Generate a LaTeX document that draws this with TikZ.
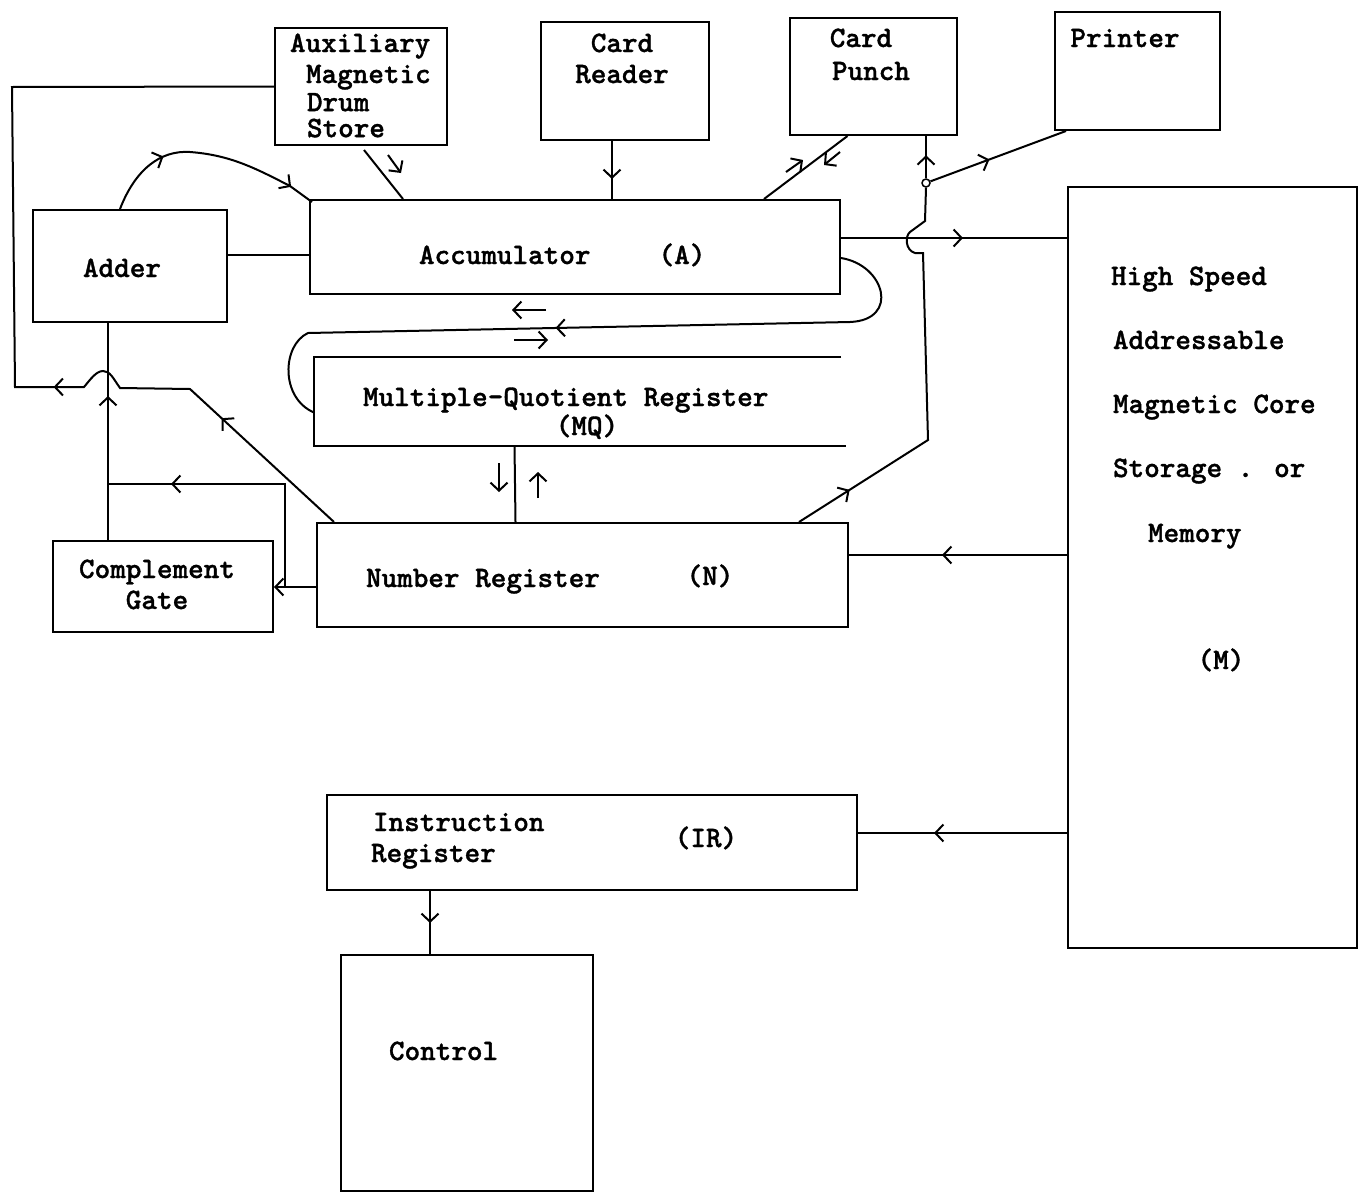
\documentclass[tikz,border=0pt]{standalone}
\usepackage{fontspec}
\newfontfamily\tw{lmmonolt10-bold.otf}[FakeBold=1.2]
\usetikzlibrary{arrows.meta,decorations.markings,calc}
\tikzset{
  box/.style={draw, line width=2pt, inner sep=0pt},
  lbl/.style={font=\tw\fontsize{29.7}{34}\selectfont, inner sep=0pt},
  barb/.style={-{Straight Barb[length=8pt,width=17pt,line width=2pt]}},
  arr/.style={postaction={decorate,decoration={markings,mark=at position #1 with {\arrow{Straight Barb[length=8pt,width=17pt,line width=2pt]}}}}},
}
\begin{document}
\begin{tikzpicture}[x=1pt,y=-1pt,line width=2pt]
\useasboundingbox (0,0) rectangle (1364,1194);
% ---------- boxes ----------
\node[box, minimum width=172pt, minimum height=117pt] (aux) at (361,86.5) {};
\node[box, minimum width=168pt, minimum height=118pt] (rdr) at (625,81) {};
\node[box, minimum width=167pt, minimum height=117pt] (pun) at (873.5,76.5) {};
\node[box, minimum width=165pt, minimum height=118pt] (prn) at (1137.5,71) {};
\node[box, minimum width=530pt, minimum height=94pt] (acc) at (575,247) {};
\node[box, minimum width=194pt, minimum height=112pt] (add) at (130,266) {};
\node[inner sep=0pt, minimum width=525pt, minimum height=87pt] (mq) at (577.5,401.5) {};
\draw (mq.north east) -- (mq.north west) -- (mq.south west) -- ($(mq.south east)+(5,0)$);
\node[box, minimum width=531pt, minimum height=104pt] (num) at (582.5,575) {};
\node[box, minimum width=220pt, minimum height=91pt] (cg) at (163,586.5) {};
\node[box, minimum width=289pt, minimum height=761pt] (mem) at (1212.5,567.5) {};
\node[box, minimum width=530pt, minimum height=95pt] (ir) at (592,842.5) {};
\node[box, minimum width=252pt, minimum height=236pt] (ctl) at (467,1073) {};
% ---------- labels ----------
\node[lbl, anchor=base west] (t1) at (289,52) {Auxiliary};
\node[lbl, anchor=base west] (t2) at (305,83) {Magnetic};
\node[lbl, anchor=north west, align=left, font=\tw\fontsize{29.7}{26}\selectfont] (t3) at (306,92) {Drum\\Store};
\node[lbl, anchor=base] (t5) at (622,52) {Card};
\node[lbl, anchor=base] (t6) at (622,83) {Reader};
\node[lbl, anchor=base] (t7) at (861,47) {Card};
\node[lbl, anchor=base] (t8) at (871,80) {Punch};
\node[lbl, anchor=base] (t9) at (1125,47) {Printer};
\node[lbl, anchor=base west] (t10) at (418,264) {Accumulator};
\node[lbl, anchor=base] (t11) at (682,264) {(A)};
\node[lbl, anchor=base] (t12) at (122,277) {Adder};
\node[lbl, anchor=base west] (t13) at (362,406) {Multiple-Quotient Register};
\node[lbl, anchor=base] (t14) at (587,435) {(MQ)};
\node[lbl, anchor=base west] (t15) at (365,587) {Number Register};
\node[lbl, anchor=base] (t16) at (710,585) {(N)};
\node[lbl, anchor=base] (t17) at (157,578) {Complement};
\node[lbl, anchor=base] (t18) at (157,609) {Gate};
\node[lbl, anchor=base west] (t19) at (1110,285) {High Speed};
\node[lbl, anchor=base west] (t20) at (1112,349) {Addressable};
\node[lbl, anchor=base west] (t21) at (1112,413) {Magnetic Core};
\node[lbl, anchor=base west] (t22) at (1112,477) {Storage . or};
\node[lbl, anchor=base west] (t23) at (1147,542) {Memory};
\node[lbl, anchor=base] (t24) at (1221,669) {(M)};
\node[lbl, anchor=base west] (t25) at (372,831) {Instruction};
\node[lbl, anchor=base west] (t26) at (370,862) {Register};
\node[lbl, anchor=base] (t27) at (706,847) {(IR)};
\node[lbl, anchor=base west] (t28) at (388,1060) {Control};
% ---------- connectors ----------
% Adder -> Accumulator (curve)
\draw[arr=70pt, arr=205pt] ($(add.north)+(-10,0)$) .. controls (135,170) and (160,150) .. (190,152) .. controls (230,155) and (255,168) .. (290,186) -- ($(acc.north west)+(3,3)$);
% Adder -- Accumulator
\draw ($(add.east)+(0,-11)$) -- ($(acc.west)+(0,8)$);
% Aux store -> Accumulator
\draw ($(aux.south)+(3,4)$) -- ($(acc.north west)+(94,0)$);
\draw[barb] (388,155) -- (401,173);
% Card reader -> Accumulator
\draw[arr=38pt] ($(rdr.south)+(-13,0)$) -- ($(acc.north)+(37,0)$);
% Accumulator <-> Card punch
\draw ($(pun.south)+(-26,0)$) -- ($(acc.north east)+(-77,0)$);
\draw[barb] (786,172) -- (803,160);
\draw[barb] (840,152) -- (824,165);
% Number register -> Card punch / Printer
\node[circle, draw, line width=1.5pt, inner sep=0pt, minimum size=8pt] (jn) at (926,183) {};
\draw[arr=60pt] ($(num.north west)+(483,0)$) -- (928,440) -- (923,253) -- (915,253) .. controls (905,250) and (905,236) .. (910,232) -- (925,221) -- (jn.south);
\draw[arr=23pt] (jn.north) -- ($(pun.south)+(52.5,0)$);
\draw[arr=63pt] (jn) -- ($(prn.south west)+(12,0)$);
% Accumulator -> Memory
\coordinate (a1) at ($(acc.east)+(0,-9)$);
\draw[arr=122pt] (a1) -- (a1 -| mem.west);
% Accumulator -> MQ loop
\draw[arr=400pt] ($(acc.south east)+(0,-37)$) .. controls (885,265) and (900,320) .. (850,322) -- (308,333) .. controls (282,345) and (280,398) .. ($(mq.west)+(0,11)$);
\draw[barb] (546,310) -- (512,310);
\draw[barb] (514,340) -- (548,340);
% MQ <-> Number register
\draw ($(mq.south)+(-63,0)$) -- ($(num.north)+(-67,0)$);
\draw[barb] (499,463) -- (499,492);
\draw[barb] (538,498) -- (538,472);
% Memory -> Number register
\coordinate (m1) at ($(num.east)+(0,-20)$);
\draw[arr=125pt] (m1 -| mem.west) -- (m1);
% Memory -> Instruction register
\coordinate (m2) at ($(ir.east)+(0,-9.5)$);
\draw[arr=133pt] (m2 -| mem.west) -- (m2);
% Instruction register -> Control
\draw[arr=32pt] ($(ir.south)+(-162,0)$) -- ($(ctl.north)+(-37,0)$);
% Number register -> Complement gate / Adder line
\coordinate (n1) at ($(num.west)+(0,12)$);
\draw[barb] (n1) -- (n1 -| cg.east);
\coordinate (n2) at ($(n1)+(-31,0)$);
\coordinate (n3) at ($(n2)+(0,-103)$);
\coordinate (v0) at ($(cg.north)+(-55,0)$);
\draw[arr=217pt] (n2) -- (n3) -- (v0 |- n3);
% Complement gate -> Adder
\draw[arr=144pt] (v0) -- (v0 |- add.south);
% Number register -> Auxiliary store
\draw[arr=153pt, arr=347pt] ($(num.north west)+(18,0)$) -- (190,389) -- (120,388) .. controls (113,378) and (110,371) .. (103,371) .. controls (96,371) and (90,380) .. (84,387) -- (15,387) -- (12,87) -- (aux.west);
\end{tikzpicture}
\end{document}
